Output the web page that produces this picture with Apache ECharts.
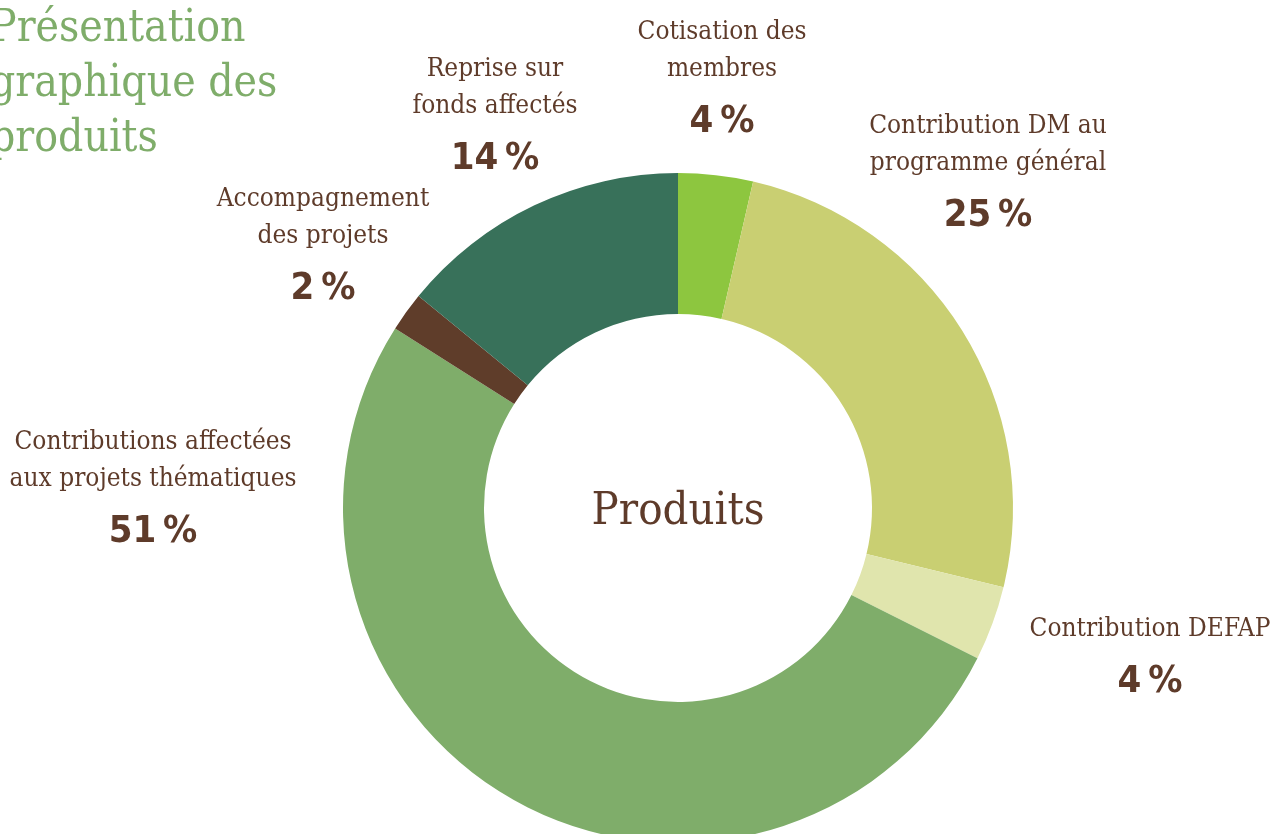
<!DOCTYPE html>
<html>
<head>
<meta charset="utf-8">
<script src="https://cdn.jsdelivr.net/npm/echarts@6/dist/echarts.min.js"></script>
<style>
	html,body{margin:0;padding:0;background:#fff;}
	#chart{width:1270px;height:834px;}
</style>
</head>
<body>
<div id="chart"></div>
<script>
// données (sens horaire depuis midi)
var names = ['Cotisation des\nmembres', 'Contribution DM au\nprogramme général', 'Contribution DEFAP',
	'Contributions affectées\naux projets thématiques', 'Accompagnement\ndes projets', 'Reprise sur\nfonds affectés'];
var values = [3.6, 25.2, 3.6, 51.6, 1.9, 14.1];
var pctLabels = ['4\u2009%', '25\u2009%', '4\u2009%', '51\u2009%', '2\u2009%', '14\u2009%'];

// mise en page des étiquettes (centre x, haut du bloc)
var labelPos = [[722, 14], [988, 108], [1150, 611], [153, 424], [323, 181], [495, 51]];
var colors = ['#8DC63F', '#C9CF72', '#E0E5AD', '#7FAD6A', '#5F3D2A', '#38715A'];

var brown = '#5E3B2A';
var serif = '"DejaVu Serif Condensed", "DejaVu Serif", serif';
var narrow = '"Liberation Sans Narrow", "DejaVu Sans Condensed", sans-serif';

var data = [];
for (var i = 0; i < names.length; i++) {
	data.push({ name: names[i], value: values[i], itemStyle: { color: colors[i] } });
}

var myChart = echarts.init(document.getElementById('chart'));
myChart.setOption({
	animation: false,
	title: {
		text: 'Présentation\ngraphique des\nproduits',
		left: -15,
		top: -3,
		textStyle: {
			color: '#7FAD6A',
			fontFamily: serif,
			fontWeight: 'normal',
			fontSize: 44,
			lineHeight: 55
		}
	},
	graphic: [{
		type: 'text',
		style: {
			text: 'Produits',
			x: 678,
			y: 512,
			align: 'center',
			verticalAlign: 'middle',
			fill: brown,
			font: '45px ' + serif
		}
	}],
	series: [{
		type: 'pie',
		center: [678, 508],
		radius: [194, 335],
		startAngle: 90,
		clockwise: true,
		avoidLabelOverlap: false,
		silent: true,
		label: {
			show: true,
			position: 'outside',
			align: 'center',
			formatter: function (p) {
				var lines = p.name.split('\n');
				var s = '';
				for (var k = 0; k < lines.length; k++) {
					s += '{t|' + lines[k] + '}\n';
				}
				return s + '{p|' + pctLabels[p.dataIndex] + '}';
			},
			rich: {
				t: { fontFamily: serif, fontSize: 26, color: brown, lineHeight: 37, align: 'center' },
				p: { fontFamily: narrow, fontWeight: 'bold', fontSize: 38, color: brown, lineHeight: 68, align: 'center' }
			}
		},
		labelLine: { show: false },
		labelLayout: function (params) {
			var pos = labelPos[params.dataIndex];
			return { x: pos[0], y: pos[1], align: 'center', verticalAlign: 'top' };
		},
		data: data
	}]
});
</script>
</body>
</html>
